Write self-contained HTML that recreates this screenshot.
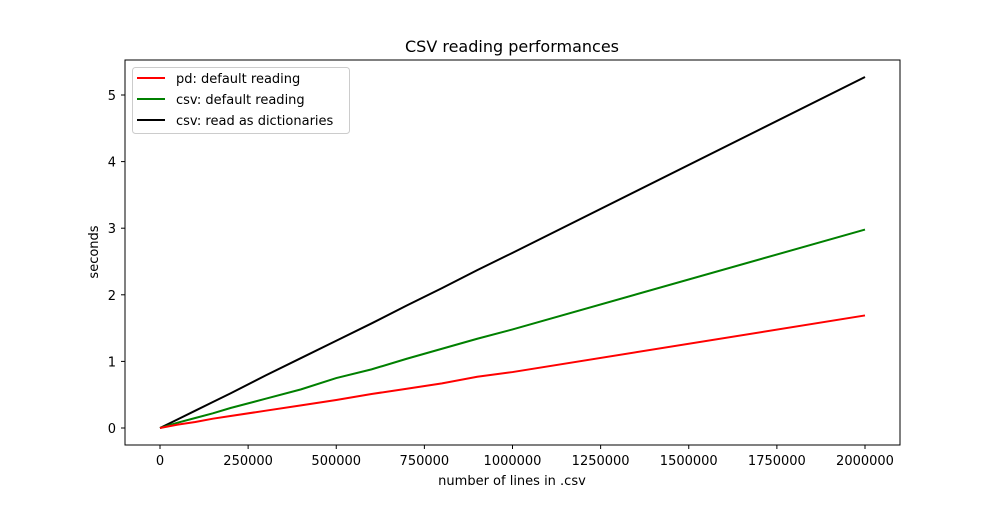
<!DOCTYPE html>
<html><head><meta charset="utf-8"><style>
body{margin:0;background:#fff;}
text{font-family:"DejaVu Sans","Liberation Sans",sans-serif;}
</style></head><body>
<svg id="chart" width="1000" height="500" xmlns="http://www.w3.org/2000/svg">
<rect width="1000" height="500" fill="#fff"/>
<text x="512" y="52" font-size="16" text-anchor="middle">CSV reading performances</text>
<g id="plot"></g>
<rect x="125" y="60" width="775" height="385" fill="none" stroke="#000" stroke-width="1"/>
<text x="512" y="485" font-size="13" text-anchor="middle">number of lines in .csv</text>
<text transform="translate(98,252) rotate(-90)" font-size="13" text-anchor="middle">seconds</text>
<g>
<rect x="132.5" y="67.5" width="217" height="66" rx="3" fill="#fff" fill-opacity="0.8" stroke="#ccc"/>
<line x1="137" y1="78" x2="165" y2="78" stroke="red" stroke-width="2"/>
<text x="176" y="83" font-size="13">pd: default reading</text>
<line x1="137" y1="99" x2="165" y2="99" stroke="green" stroke-width="2"/>
<text x="176" y="104" font-size="13">csv: default reading</text>
<line x1="137" y1="120" x2="165" y2="120" stroke="#000" stroke-width="2"/>
<text x="176" y="125" font-size="13">csv: read as dictionaries</text>
</g>
</svg>
<script>
const xValues=[0,50000,100000,150000,200000,300000,400000,500000,600000,700000,800000,900000,1000000,2000000];
const pdSeries=[0,0.05,0.09,0.14,0.18,0.26,0.34,0.42,0.51,0.59,0.67,0.77,0.84,1.69];
const csvSeries=[0,0.08,0.15,0.22,0.30,0.44,0.58,0.75,0.88,1.04,1.19,1.34,1.48,2.98];
const dictSeries=[0,0.13,0.26,0.39,0.52,0.79,1.05,1.31,1.57,1.84,2.10,2.37,2.63,5.27];
const xTicks=[0,250000,500000,750000,1000000,1250000,1500000,1750000,2000000];
const yTicks=[0,1,2,3,4,5];
const NS="http://www.w3.org/2000/svg";
const xs=v=>160+v*(705/2000000);
const ys=v=>428-v*66.6;
const g=document.getElementById('plot');
function mk(t,a){const e=document.createElementNS(NS,t);for(const k in a)e.setAttribute(k,a[k]);return e;}
xTicks.forEach(t=>{
  const l=mk('line',{x1:xs(t),x2:xs(t),y1:445,y2:449,stroke:'#000'});
  
  
  g.appendChild(l);
  const tx=mk('text',{x:xs(t),y:465,'font-size':13,'text-anchor':'middle'});
  
  
  tx.textContent=String(t);g.appendChild(tx);
});
yTicks.forEach(t=>{
  const l=mk('line',{x1:121,x2:125,y1:ys(t),y2:ys(t),stroke:'#000'});
  
  
  g.appendChild(l);
  const tx=mk('text',{x:116,y:ys(t)+5,'font-size':13,'text-anchor':'end'});
  
  
  tx.textContent=String(t);g.appendChild(tx);
});
[[dictSeries,'#000','dict-line'],[csvSeries,'green','csv-line'],[pdSeries,'red','pd-line']].forEach(([s,c,n])=>{
  const p=mk('polyline',{points:s.map((v,i)=>xs(xValues[i])+','+ys(v)).join(' '),fill:'none',stroke:c,'stroke-width':2});
  
  
  g.appendChild(p);
});
</script>
</body></html>
